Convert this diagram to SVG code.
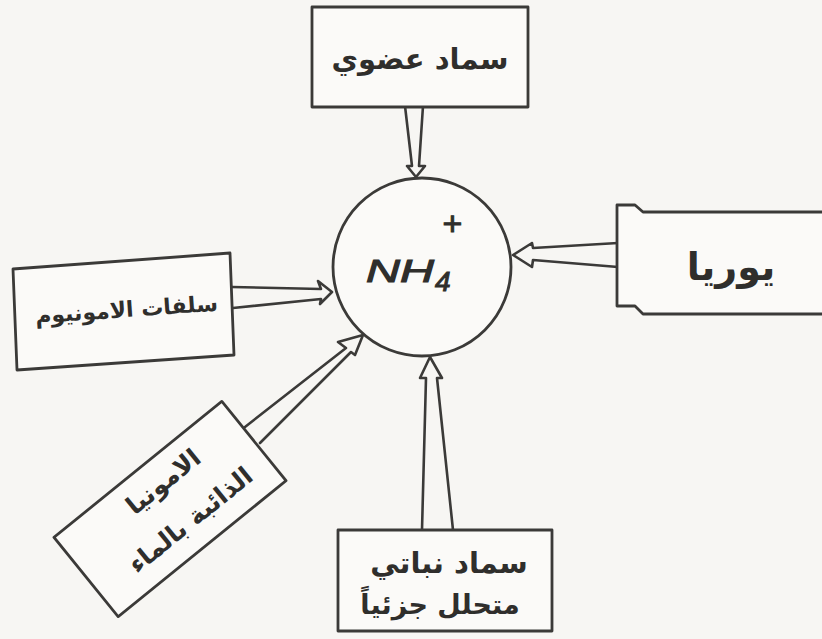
<svg xmlns="http://www.w3.org/2000/svg" width="822" height="639" viewBox="0 0 822 639">
  <style>
    .ln { fill: none; stroke: #3b3a38; stroke-width: 2.6; stroke-linejoin: round; stroke-linecap: round; }
    .box { fill: #fbfaf8; stroke: #3b3a38; stroke-width: 2.8; stroke-linejoin: round; }
    .ar { font-family: "DejaVu Sans", "Noto Sans", sans-serif; font-weight: bold; fill: #2f2e2c; text-anchor: middle; direction: rtl; }
    .nh { font-family: "Liberation Sans", "DejaVu Sans", sans-serif; font-style: italic; fill: #2f2e2c; stroke: #2f2e2c; stroke-width: 1; }
  </style>
  <rect width="822" height="639" fill="#f7f6f3"/>

  <!-- connectors: hollow block arrows pointing into the ion -->
  <g id="connectors">
    <path class="ln" d="M405,106 L412,166 L407,166 L416,177 L425,166 L419,166 L423,106"/>
    <path class="ln" d="M618,243 L533,248 L532,243 L513,255 L532,267 L533,260 L618,267"/>
    <path class="ln" d="M232,287 L321,289 L318,281 L332,292 L320,304 L321,299 L233,308"/>
    <path class="ln" d="M245,427 L346,348 L338,342 L363,335 L355,355 L351,352 L260,443"/>
    <path class="ln" d="M422,530 L426,378 L420,378 L430,357 L442,378 L437,378 L453,530"/>
  </g>

  <!-- central ammonium ion -->
  <g id="ammonium">
    <circle class="box" cx="422" cy="267" r="89"/>
    <text class="nh" x="366" y="282" font-size="31" textLength="68" lengthAdjust="spacingAndGlyphs">NH</text>
    <text class="nh" x="435" y="291" font-size="28" font-style="normal">4</text>
    <text class="nh" x="452" y="235" font-size="34" font-style="normal" text-anchor="middle">+</text>
  </g>

  <!-- organic fertiliser -->
  <g id="organic">
    <rect class="box" x="312" y="7" width="216" height="100"/>
    <text class="ar" x="420" y="69" font-size="29">سماد عضوي</text>
  </g>

  <!-- urea -->
  <g id="urea">
    <path class="box" d="M822,212 L643,212 L635,205 L617,205 L617,306 L635,306 L643,314 L822,314"/>
    <text class="ar" x="731" y="280" font-size="38">يوريا</text>
  </g>

  <!-- ammonium sulphate -->
  <g id="sulphate">
    <path class="box" d="M13,269 L230,253 L234,355 L17,370 Z"/>
    <text class="ar" x="0" y="0" font-size="22" transform="translate(127,317) rotate(-4)">سلفات الامونيوم</text>
  </g>

  <!-- dissolved ammonia -->
  <g id="ammonia" transform="translate(170,509) rotate(-39)">
    <rect class="box" x="-108" y="-51" width="216" height="102"/>
    <text class="ar" x="12" y="-17" font-size="25">الامونيا</text>
    <text class="ar" x="9" y="30" font-size="25">الذائبة بالماء</text>
  </g>

  <!-- partly decomposed plant manure -->
  <g id="plant">
    <rect class="box" x="338" y="530" width="214" height="101"/>
    <text class="ar" x="449" y="573" font-size="29">سماد نباتي</text>
    <text class="ar" x="440" y="614" font-size="27">متحلل جزئياً</text>
  </g>
</svg>
